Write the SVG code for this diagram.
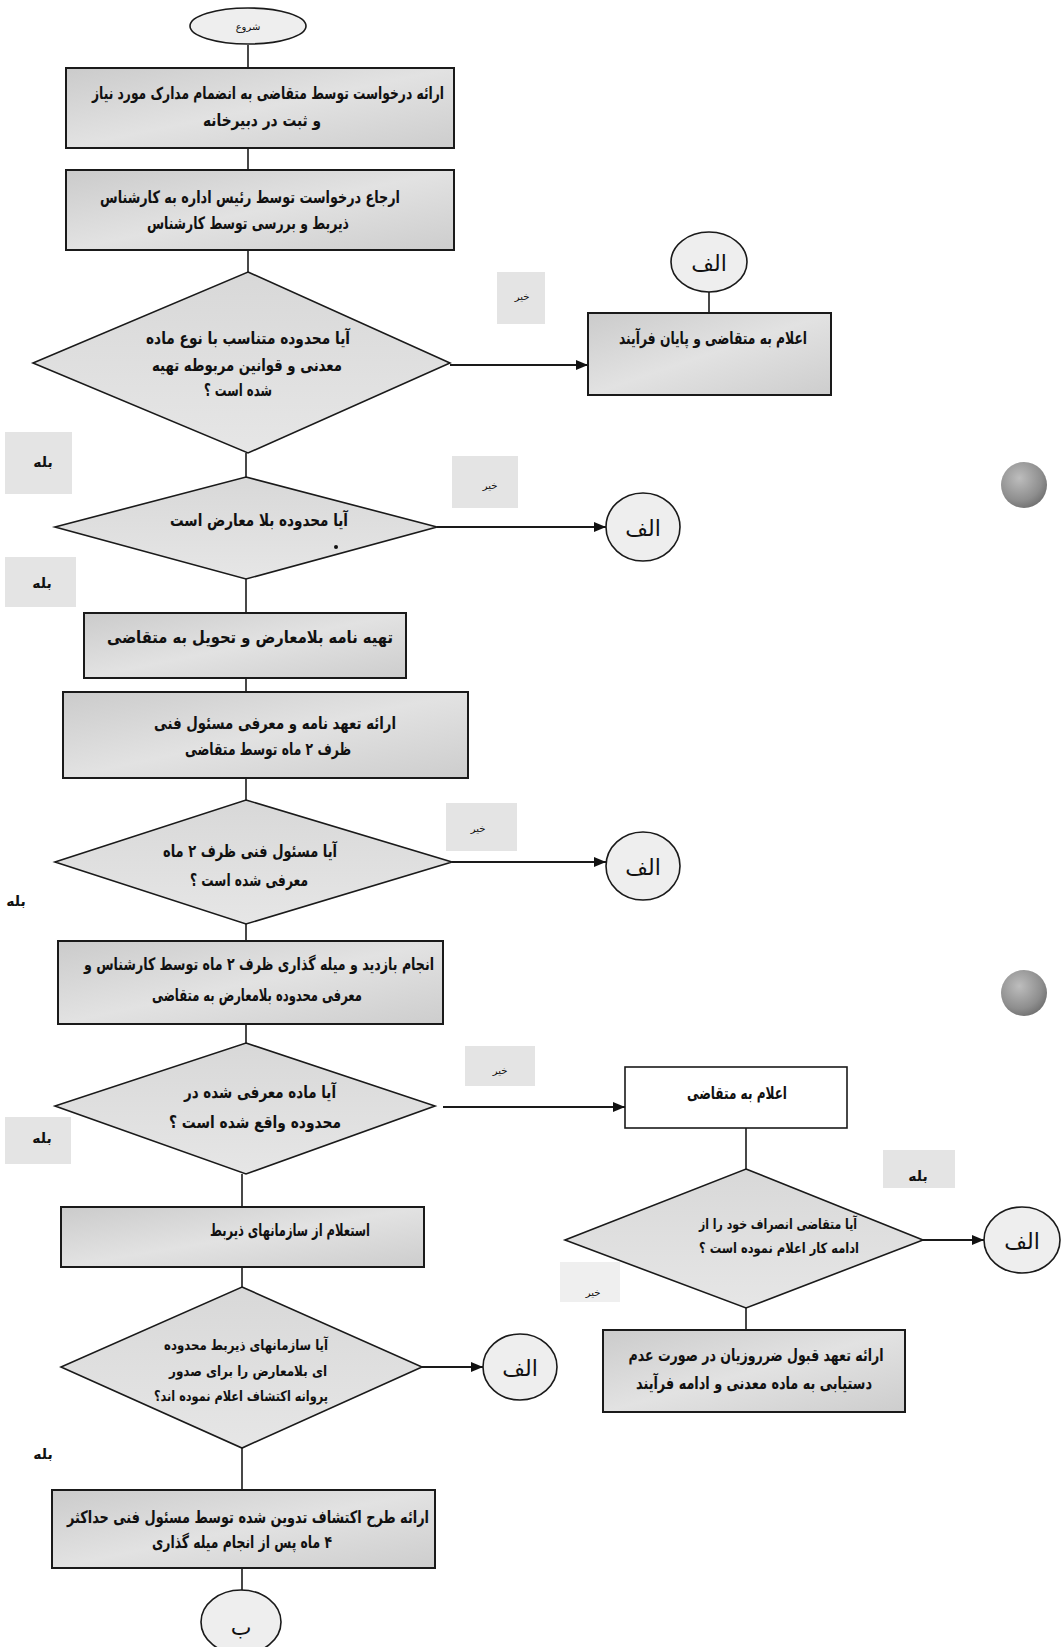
<svg xmlns="http://www.w3.org/2000/svg" width="1063" height="1647" viewBox="0 0 1063 1647">
<defs>
<linearGradient id="gbox" x1="0" y1="0" x2="1" y2="1">
<stop offset="0" stop-color="#cbcbcb"/><stop offset="0.5" stop-color="#e2e2e2"/><stop offset="1" stop-color="#cdcdcd"/>
</linearGradient>
<linearGradient id="gdia" x1="0" y1="0" x2="0" y2="1">
<stop offset="0" stop-color="#d8d8d8"/><stop offset="1" stop-color="#e6e6e6"/>
</linearGradient>
<radialGradient id="ghole" cx="0.4" cy="0.35" r="0.7">
<stop offset="0" stop-color="#bdbdbd"/><stop offset="0.7" stop-color="#8e8e8e"/><stop offset="1" stop-color="#6e6e6e"/>
</radialGradient>
<marker id="ah" viewBox="0 0 12 10" refX="12" refY="5" markerWidth="12" markerHeight="10" markerUnits="userSpaceOnUse" orient="auto">
<path d="M0,0 L12,5 L0,10 z" fill="#111"/>
</marker>
<style>
.box{fill:url(#gbox);stroke:#1a1a1a;stroke-width:2}
.wbox{fill:#fff;stroke:#1a1a1a;stroke-width:1.6}
.dia{fill:url(#gdia);stroke:#1a1a1a;stroke-width:1.6}
.circ{fill:#eeeeee;stroke:#1a1a1a;stroke-width:1.6}
.ln{stroke:#1a1a1a;stroke-width:1.6;fill:none}
.arr{stroke:#1a1a1a;stroke-width:1.8;fill:none;marker-end:url(#ah)}
.t{font-family:"DejaVu Sans",sans-serif;font-weight:bold;font-size:17px;fill:#111;text-anchor:middle;direction:rtl}
.ts{font-family:"DejaVu Sans",sans-serif;font-weight:bold;font-size:14px;fill:#111;text-anchor:middle;direction:rtl}
.tc{font-family:"DejaVu Sans",sans-serif;font-size:22px;fill:#111;text-anchor:middle;direction:rtl}
.lb{font-family:"DejaVu Sans",sans-serif;font-size:10px;fill:#111;text-anchor:middle;direction:rtl}
.lbb{font-family:"DejaVu Sans",sans-serif;font-weight:bold;font-size:14px;fill:#111;text-anchor:middle;direction:rtl}
.patch{fill:#e4e4e4}
</style>
</defs>
<rect width="1063" height="1647" fill="#ffffff"/>

<g id="scan-marks">
<circle cx="1024" cy="485" r="23" fill="url(#ghole)"/>
<circle cx="1024" cy="993" r="23" fill="url(#ghole)"/>
</g>

<g id="connectors">
<line class="ln" x1="248" y1="45" x2="248" y2="68"/>
<line class="ln" x1="248" y1="148" x2="248" y2="170"/>
<line class="ln" x1="248" y1="250" x2="248" y2="272"/>
<line class="arr" x1="450" y1="365" x2="588" y2="365"/>
<line class="ln" x1="709" y1="292" x2="709" y2="313"/>
<line class="ln" x1="246" y1="453" x2="246" y2="477"/>
<line class="arr" x1="437" y1="527" x2="606" y2="527"/>
<line class="ln" x1="246" y1="579" x2="246" y2="613"/>
<line class="ln" x1="246" y1="678" x2="246" y2="692"/>
<line class="ln" x1="246" y1="778" x2="246" y2="800"/>
<line class="arr" x1="452" y1="862" x2="606" y2="862"/>
<line class="ln" x1="246" y1="924" x2="246" y2="941"/>
<line class="ln" x1="246" y1="1024" x2="246" y2="1043"/>
<line class="arr" x1="443" y1="1107" x2="625" y2="1107"/>
<line class="ln" x1="746" y1="1128" x2="746" y2="1169"/>
<line class="arr" x1="923" y1="1240" x2="984" y2="1240"/>
<line class="ln" x1="746" y1="1308" x2="746" y2="1330"/>
<line class="ln" x1="242" y1="1174" x2="242" y2="1207"/>
<line class="ln" x1="242" y1="1267" x2="242" y2="1287"/>
<line class="arr" x1="422" y1="1367" x2="483" y2="1367"/>
<line class="ln" x1="242" y1="1448" x2="242" y2="1490"/>
<line class="ln" x1="242" y1="1568" x2="242" y2="1590"/>
</g>

<g id="labels">
<rect class="patch" x="497" y="272" width="48" height="52"/>
<text class="lb" x="522" y="300">خیر</text>
<rect class="patch" x="5" y="432" width="67" height="62"/>
<text class="lbb" x="43" y="467">بله</text>
<rect class="patch" x="452" y="456" width="66" height="52"/>
<text class="lb" x="490" y="489">خیر</text>
<rect class="patch" x="5" y="557" width="71" height="50"/>
<text class="lbb" x="42" y="588">بله</text>
<rect class="patch" x="446" y="803" width="71" height="48"/>
<text class="lb" x="478" y="832">خیر</text>
<text class="lbb" x="16" y="906">بله</text>
<rect class="patch" x="465" y="1046" width="70" height="40"/>
<text class="lb" x="500" y="1074">خیر</text>
<rect class="patch" x="5" y="1117" width="66" height="47"/>
<text class="lbb" x="42" y="1143">بله</text>
<rect class="patch" x="883" y="1150" width="72" height="38"/>
<text class="lbb" x="918" y="1181">بله</text>
<rect class="patch" x="560" y="1262" width="60" height="40" fill-opacity="0.6"/>
<text class="lb" x="593" y="1296">خیر</text>
<text class="lbb" x="43" y="1459">بله</text>
</g>

<g id="start">
<ellipse class="circ" cx="248" cy="26" rx="58" ry="18"/>
<text class="lb" x="248" y="30">شروع</text>
</g>

<g id="n1">
<rect class="box" x="66" y="68" width="388" height="80"/>
<text class="t" x="268" y="99" textLength="352" lengthAdjust="spacingAndGlyphs">ارائه درخواست توسط متقاضی به انضمام مدارک مورد نیاز</text>
<text class="t" x="262" y="126" textLength="118" lengthAdjust="spacingAndGlyphs">و ثبت در دبیرخانه</text>
</g>

<g id="n2">
<rect class="box" x="66" y="170" width="388" height="80"/>
<text class="t" x="250" y="203" textLength="300" lengthAdjust="spacingAndGlyphs">ارجاع درخواست توسط رئیس اداره به کارشناس</text>
<text class="t" x="248" y="229" textLength="202" lengthAdjust="spacingAndGlyphs">ذیربط و بررسی توسط کارشناس</text>
</g>

<g id="d1">
<polygon class="dia" points="248,272 450,363 248,453 33,363"/>
<text class="t" x="248" y="344" textLength="204" lengthAdjust="spacingAndGlyphs">آیا محدوده متناسب با نوع ماده</text>
<text class="t" x="247" y="371" textLength="190" lengthAdjust="spacingAndGlyphs">معدنی و قوانین مربوطه تهیه</text>
<text class="t" x="238" y="396" textLength="68" lengthAdjust="spacingAndGlyphs">شده است ؟</text>
</g>

<g id="c1">
<ellipse class="circ" cx="709" cy="262" rx="38" ry="30"/>
<text class="tc" x="709" y="271">الف</text>
</g>

<g id="end1">
<rect class="box" x="588" y="313" width="243" height="82"/>
<text class="t" x="713" y="344" textLength="188" lengthAdjust="spacingAndGlyphs">اعلام به متقاضی و پایان فرآیند</text>
</g>

<g id="d2">
<polygon class="dia" points="246,477 437,527 246,579 55,527"/>
<text class="t" x="259" y="526" textLength="178" lengthAdjust="spacingAndGlyphs">آیا محدوده بلا معارض است</text>
<circle cx="336" cy="547" r="2" fill="#111"/>
</g>

<g id="c2">
<ellipse class="circ" cx="643" cy="527" rx="37" ry="34"/>
<text class="tc" x="643" y="536">الف</text>
</g>

<g id="n3">
<rect class="box" x="84" y="613" width="322" height="65"/>
<text class="t" x="250" y="643" textLength="286" lengthAdjust="spacingAndGlyphs">تهیه نامه بلامعارض و تحویل به متقاضی</text>
</g>

<g id="n4">
<rect class="box" x="63" y="692" width="405" height="86"/>
<text class="t" x="275" y="729" textLength="242" lengthAdjust="spacingAndGlyphs">ارائه تعهد نامه و معرفی مسئول فنی</text>
<text class="t" x="268" y="755" textLength="166" lengthAdjust="spacingAndGlyphs">ظرف ۲ ماه توسط متقاضی</text>
</g>

<g id="d3">
<polygon class="dia" points="246,800 452,862 246,924 55,862"/>
<text class="t" x="250" y="857" textLength="174" lengthAdjust="spacingAndGlyphs">آیا مسئول فنی ظرف ۲ ماه</text>
<text class="t" x="249" y="886" textLength="118" lengthAdjust="spacingAndGlyphs">معرفی شده است ؟</text>
</g>

<g id="c3">
<ellipse class="circ" cx="643" cy="866" rx="37" ry="34"/>
<text class="tc" x="643" y="875">الف</text>
</g>

<g id="n5">
<rect class="box" x="58" y="941" width="385" height="83"/>
<text class="t" x="259" y="970" textLength="350" lengthAdjust="spacingAndGlyphs">انجام بازدید و میله گذاری ظرف ۲ ماه توسط کارشناس و</text>
<text class="t" x="257" y="1001" textLength="210" lengthAdjust="spacingAndGlyphs">معرفی محدوده بلامعارض به متقاضی</text>
</g>

<g id="d4">
<polygon class="dia" points="246,1043 435,1106 246,1174 55,1106"/>
<text class="t" x="260" y="1098" textLength="152" lengthAdjust="spacingAndGlyphs">آیا ماده معرفی شده در</text>
<text class="t" x="255" y="1128" textLength="172" lengthAdjust="spacingAndGlyphs">محدوده واقع شده است ؟</text>
</g>

<g id="n6">
<rect class="wbox" x="625" y="1067" width="222" height="61"/>
<text class="t" x="737" y="1099" textLength="100" lengthAdjust="spacingAndGlyphs">اعلام به متقاضی</text>
</g>

<g id="d5">
<polygon class="dia" points="746,1169 923,1240 746,1308 565,1240"/>
<text class="ts" x="778" y="1229" textLength="158" lengthAdjust="spacingAndGlyphs">آیا متقاضی انصراف خود را از</text>
<text class="ts" x="779" y="1253" textLength="160" lengthAdjust="spacingAndGlyphs">ادامه  کار اعلام نموده است ؟</text>
</g>

<g id="c4">
<ellipse class="circ" cx="1022" cy="1240" rx="38" ry="33"/>
<text class="tc" x="1022" y="1249">الف</text>
</g>

<g id="n7">
<rect class="box" x="603" y="1330" width="302" height="82"/>
<text class="t" x="756" y="1361" textLength="255" lengthAdjust="spacingAndGlyphs">ارائه تعهد قبول ضرروزیان در صورت عدم</text>
<text class="t" x="754" y="1389" textLength="236" lengthAdjust="spacingAndGlyphs">دستیابی به ماده معدنی و ادامه فرآیند</text>
</g>

<g id="n8">
<rect class="box" x="61" y="1207" width="363" height="60"/>
<text class="t" x="290" y="1236" textLength="160" lengthAdjust="spacingAndGlyphs">استعلام از سازمانهای ذیربط</text>
</g>

<g id="d6">
<polygon class="dia" points="242,1287 422,1367 242,1448 61,1367"/>
<text class="ts" x="246" y="1350" textLength="164" lengthAdjust="spacingAndGlyphs">آیا سازمانهای ذیربط محدوده</text>
<text class="ts" x="248" y="1376" textLength="158" lengthAdjust="spacingAndGlyphs">ای بلامعارض را برای صدور</text>
<text class="ts" x="241" y="1401" textLength="174" lengthAdjust="spacingAndGlyphs">پروانه اکتشاف اعلام نموده اند؟</text>
</g>

<g id="c5">
<ellipse class="circ" cx="520" cy="1367" rx="37" ry="33"/>
<text class="tc" x="520" y="1376">الف</text>
</g>

<g id="n9">
<rect class="box" x="52" y="1490" width="383" height="78"/>
<text class="t" x="248" y="1523" textLength="362" lengthAdjust="spacingAndGlyphs">ارائه طرح اکتشاف تدوین شده توسط مسئول فنی حداکثر</text>
<text class="t" x="242" y="1548" textLength="180" lengthAdjust="spacingAndGlyphs">۴ ماه پس از انجام میله گذاری</text>
</g>

<g id="end2">
<ellipse class="circ" cx="241" cy="1622" rx="40" ry="32"/>
<text class="tc" x="241" y="1635">ب</text>
</g>
</svg>
